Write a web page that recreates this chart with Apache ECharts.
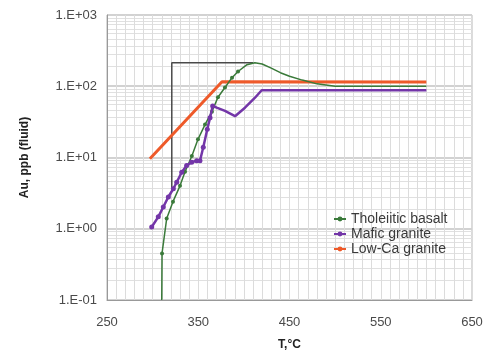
<!DOCTYPE html>
<html>
<head>
<meta charset="utf-8">
<script src="https://cdn.jsdelivr.net/npm/echarts@6/dist/echarts.min.js"></script>
<style>
  html, body {margin: 0; padding: 0; background: #fff;}
  #main {width: 499px; height: 356px;}
</style>
</head>
<body>
<div id="main"></div>
<script>
// Au solubility in fluid vs temperature
const seriesNames = ['Tholeiitic basalt', 'Mafic granite', 'Low-Ca granite'];

const basaltT = [310, 310.3, 315.4, 322.3, 330, 335.5, 343, 349.7, 357.4, 365, 371.6, 379.3, 387, 393.6, 403.4, 412, 420, 430, 440, 450, 464, 480, 500, 600];
const basaltAu = [0.1, 0.45, 1.39, 2.4, 4.0, 6.3, 10.5, 18, 29, 44, 70, 96, 132, 161, 201, 214, 205, 180, 155, 138, 122, 108, 100, 100];

const maficT = [299, 306.2, 311.7, 317.2, 322.7, 326.4, 331.9, 337.3, 342.8, 348.3, 351.9, 355.5, 359.9, 362.9, 365.8, 370.2, 379.3, 390.3, 401.2, 412.2, 419.5, 600];
const maficAu = [1.06, 1.47, 2.02, 2.79, 3.64, 4.5, 6.2, 7.7, 8.6, 9.0, 9.0, 13.9, 25, 36, 53, 50, 45, 38, 50, 69, 88, 88];

const lowCaT = [297, 376, 600];
const lowCaAu = [9.6, 116, 115];

// black step line (no legend entry)
const stepT = [321, 321, 410];
const stepAu = [3.4, 214, 214];

const xTicks = [250, 350, 450, 550, 650];

function sciLabel(v) {
  const e = Math.round(Math.log10(v));
  return '1.E' + (e < 0 ? '-' : '+') + String(Math.abs(e)).padStart(2, '0');
}

// markers only on the rising (sparse) part of the curves
function pts(xs, ys, markBelow) {
  return xs.map((x, i) => {
    const p = {value: [x, ys[i]]};
    if (!(ys[i] > 0.1 && x < markBelow)) p.symbol = 'none';
    return p;
  });
}

const chart = echarts.init(document.getElementById('main'));
const font = 'Liberation Sans, Arial, sans-serif';

const option = {
  animation: false,
  grid: {
    left: 107, right: 27, top: 15, bottom: 54,
    show: true, borderColor: '#b5b5b5', borderWidth: 1,
  },
  legend: {
    data: seriesNames,
    orient: 'vertical',
    left: 328, top: 207,
    itemWidth: 12, itemHeight: 6, itemGap: 1,
    textStyle: {fontFamily: font, fontSize: 14, lineHeight: 14, color: '#3a3a3a'},
  },
  xAxis: {
    type: 'value',
    min: 250, max: 650, interval: 50,
    name: 'T,°C',
    nameLocation: 'middle',
    nameGap: 39,
    nameTextStyle: {fontFamily: font, fontSize: 12, fontWeight: 'bold', color: '#222'},
    axisLine: {lineStyle: {color: '#999'}},
    axisTick: {show: false},
    axisLabel: {
      fontFamily: font, fontSize: 13, color: '#4a4a4a', margin: 16,
      formatter: v => (xTicks.indexOf(v) >= 0 ? String(v) : ''),
    },
    splitLine: {lineStyle: {color: '#dcdcdc'}},
    minorTick: {show: false, splitNumber: 5},
    minorSplitLine: {show: true, lineStyle: {color: '#dcdcdc'}},
  },
  yAxis: {
    type: 'log',
    logBase: 10,
    min: 0.1, max: 1000,
    name: 'Au, ppb (fluid)',
    nameLocation: 'middle',
    nameGap: 76,
    nameTextStyle: {fontFamily: font, fontSize: 12, fontWeight: 'bold', color: '#222'},
    axisLine: {show: true, lineStyle: {color: '#999'}},
    axisTick: {show: false},
    axisLabel: {fontFamily: font, fontSize: 13, color: '#4a4a4a', margin: 10, formatter: sciLabel},
    splitLine: {lineStyle: {color: '#d2d2d2', width: 2}},
    minorTick: {show: false, splitNumber: 10},
    minorSplitLine: {show: true, lineStyle: {color: '#e0e0e0'}},
  },
  series: [
    {
      name: 'step',
      type: 'line',
      data: stepT.map((t, i) => [t, stepAu[i]]),
      symbol: 'none',
      lineStyle: {color: '#4a4a4a', width: 1.5},
      z: 1,
    },
    {
      name: seriesNames[0],
      type: 'line',
      data: pts(basaltT, basaltAu, 400),
      symbol: 'circle', symbolSize: 4,
      itemStyle: {color: '#3a7a3a'},
      lineStyle: {color: '#3a7a3a', width: 1.5},
      z: 3,
    },
    {
      name: seriesNames[1],
      type: 'line',
      data: pts(maficT, maficAu, 368),
      symbol: 'circle', symbolSize: 5,
      itemStyle: {color: '#7336a8'},
      lineStyle: {color: '#7336a8', width: 2.5},
      z: 4,
    },
    {
      name: seriesNames[2],
      type: 'line',
      data: lowCaT.map((t, i) => [t, lowCaAu[i]]),
      symbol: 'none',
      itemStyle: {color: '#ee5a2a'},
      lineStyle: {color: '#ee5a2a', width: 3},
      z: 2,
    },
  ],
};
chart.setOption(option);
</script>
</body>
</html>
